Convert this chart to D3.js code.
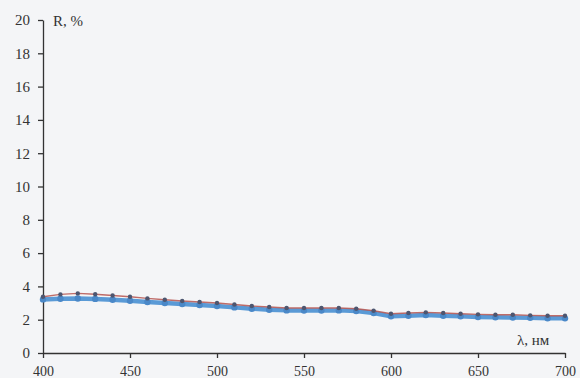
<!DOCTYPE html>
<html>
<head>
<meta charset="utf-8">
<script src="https://cdn.jsdelivr.net/npm/d3@7/dist/d3.min.js"></script>
<style>
  html, body { margin: 0; padding: 0; background: #f4f5f7; }
  svg { display: block; }
  .tick text { font-family: "Liberation Serif", "Times New Roman", serif; font-size: 15px; fill: #333; }
  .x-axis .tick text { font-size: 14px; }
  .axis path, .axis line { stroke: #333; stroke-width: 1.3; }
</style>
</head>
<body>
<svg id="chart" width="580" height="378"></svg>
<script>
// Wavelength grid, nm
const wavelengths = [400, 410, 420, 430, 440, 450, 460, 470, 480, 490, 500,
                     510, 520, 530, 540, 550, 560, 570, 580, 590, 600,
                     610, 620, 630, 640, 650, 660, 670, 680, 690, 700];

// Reflectance, %
const reflUpper = [3.38, 3.52, 3.58, 3.53, 3.45, 3.38, 3.28, 3.20, 3.12, 3.06, 3.00,
                   2.91, 2.82, 2.76, 2.70, 2.70, 2.70, 2.70, 2.66, 2.54, 2.36,
                   2.40, 2.44, 2.40, 2.36, 2.32, 2.30, 2.30, 2.26, 2.24, 2.24];
const reflLower = [3.22, 3.26, 3.27, 3.25, 3.20, 3.14, 3.06, 3.00, 2.94, 2.88, 2.82,
                   2.74, 2.66, 2.60, 2.56, 2.55, 2.55, 2.56, 2.52, 2.40, 2.20,
                   2.24, 2.28, 2.24, 2.20, 2.16, 2.15, 2.13, 2.11, 2.09, 2.08];

const xTicks = [400, 450, 500, 550, 600, 650, 700];
const yTicks = [0, 2, 4, 6, 8, 10, 12, 14, 16, 18, 20];

const svg = d3.select("#chart");
const x = d3.scaleLinear().domain([400, 700]).range([43, 565]);
const y = d3.scaleLinear().domain([0, 20]).range([353, 20]);

// Axes
svg.append("g").attr("class", "axis x-axis")
  .attr("transform", "translate(0,353)")
  .call(d3.axisBottom(x).tickValues(xTicks).tickSize(5).tickSizeOuter(0).tickPadding(8))
  .call(g => g.selectAll("text").attr("dy", "0.71em"));

svg.append("g").attr("class", "axis")
  .attr("transform", "translate(43,0)")
  .call(d3.axisLeft(y).tickValues(yTicks).tickSize(5).tickSizeOuter(0).tickPadding(8));

// Axis titles
svg.append("text").attr("x", 53).attr("y", 26)
  .attr("font-family", "Liberation Serif, serif").attr("font-size", 15).attr("fill", "#333")
  .text("R, %");
svg.append("text").attr("x", 517).attr("y", 345)
  .attr("font-family", "Liberation Serif, serif").attr("font-size", 15).attr("fill", "#333")
  .text("λ, нм");

const line = vals => d3.line().x((d, i) => x(wavelengths[i])).y(d => y(d))(vals);

// Lower series: thick blue line with round markers
svg.append("path").attr("d", line(reflLower))
  .attr("fill", "none").attr("stroke", "#5a9ad6").attr("stroke-width", 4.5)
  .attr("stroke-linejoin", "round");
svg.append("g").selectAll("circle").data(reflLower).join("circle")
  .attr("cx", (d, i) => x(wavelengths[i])).attr("cy", d => y(d)).attr("r", 3.2)
  .attr("fill", "#4a88c8");

// Upper series: thin red line with small dark markers
svg.append("path").attr("d", line(reflUpper))
  .attr("fill", "none").attr("stroke", "#b5534f").attr("stroke-width", 1.4)
  .attr("stroke-opacity", 0.85);
svg.append("g").selectAll("circle").data(reflUpper).join("circle")
  .attr("cx", (d, i) => x(wavelengths[i])).attr("cy", d => y(d)).attr("r", 2.2)
  .attr("fill", "#4d5670");
</script>
</body>
</html>
